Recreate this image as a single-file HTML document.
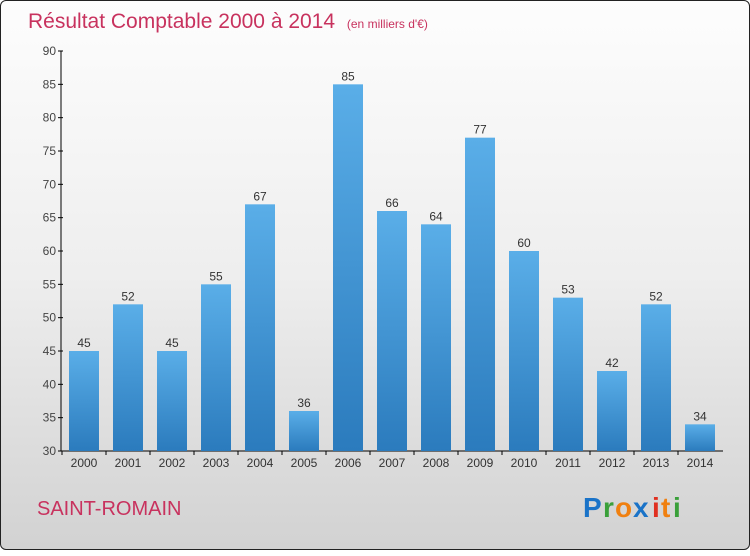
<!DOCTYPE html>
<html><head><meta charset="utf-8"><style>
html,body{margin:0;padding:0;width:750px;height:550px;overflow:hidden}
#frame{position:absolute;left:0;top:0;width:748px;height:548px;border:1px solid #222;border-radius:6px;background:linear-gradient(180deg,#fdfdfd 0%,#eeeeee 50%,#d2d2d2 100%);font-family:"Liberation Sans",sans-serif}
</style></head><body>
<div id="frame">
<svg width="750" height="550">
<defs><linearGradient id="bg" x1="0" y1="0" x2="0" y2="1"><stop offset="0" stop-color="#5aaee8"/><stop offset="1" stop-color="#2b7bbd"/></linearGradient></defs>
<text x="27" y="27" font-size="21" fill="#c8325e">Résultat Comptable 2000 à 2014 <tspan font-size="12" dx="6">(en milliers d'€)</tspan></text>
<g id="axes"></g><g id="bars"></g>
<text x="36" y="514" font-size="20" fill="#c8325e">SAINT-ROMAIN</text>
<g font-size="28" font-weight="bold">
<text x="582" y="516" fill="#1a73c8">P</text><text x="602" y="516" fill="#3aa03a">r</text><text x="614" y="516" fill="#f08010">o</text><text x="632" y="516" fill="#1a73c8">x</text><text x="651" y="516" fill="#e03020">i</text><text x="660" y="516" fill="#f08010">t</text><text x="672" y="516" fill="#3aa03a">i</text></g>
</svg></div>
<script>
const years=["2000","2001","2002","2003","2004","2005","2006","2007","2008","2009","2010","2011","2012","2013","2014"];
const values=[45,52,45,55,67,36,85,66,64,77,60,53,42,52,34];
const yTicks=[30,35,40,45,50,55,60,65,70,75,80,85,90];
const NS="http://www.w3.org/2000/svg";
const x0=61,band=44,bw=30,yMin=30,yMax=90,yTop=50,yBot=450;
const y=v=>yBot-(v-yMin)/(yMax-yMin)*(yBot-yTop);
const xc=i=>x0+band*(i+0.5);
function mk(t,a,p){const e=document.createElementNS(NS,t);for(const k in a)e.setAttribute(k,a[k]);p.appendChild(e);return e;}
const ax=document.getElementById('axes'),bars=document.getElementById('bars');
let l=mk('line',{x1:60,y1:yTop,x2:60,y2:yBot,stroke:'#000'},ax);


l=mk('line',{x1:60,y1:yBot,x2:722,y2:yBot,stroke:'#000'},ax);


yTicks.forEach(v=>{mk('line',{x1:57,y1:y(v),x2:62,y2:y(v),stroke:'#000'},ax);
const t=mk('text',{x:55,y:y(v)+4,'text-anchor':'end','font-size':12,fill:'#444'},ax);t.textContent=v;

});
years.forEach((yr,i)=>{const v=values[i];
const r=mk('rect',{x:xc(i)-bw/2,y:y(v),width:bw,height:yBot-y(v),fill:'url(#bg)'},bars);


mk('line',{x1:x0+band*i,y1:yBot,x2:x0+band*i,y2:yBot+4,stroke:'#000'},ax);
const t=mk('text',{x:xc(i),y:y(v)-4,'text-anchor':'middle','font-size':12,fill:'#333'},bars);t.textContent=v;


const xl=mk('text',{x:xc(i),y:466,'text-anchor':'middle','font-size':12,fill:'#333'},ax);xl.textContent=yr;

});
</script>
</body></html>
